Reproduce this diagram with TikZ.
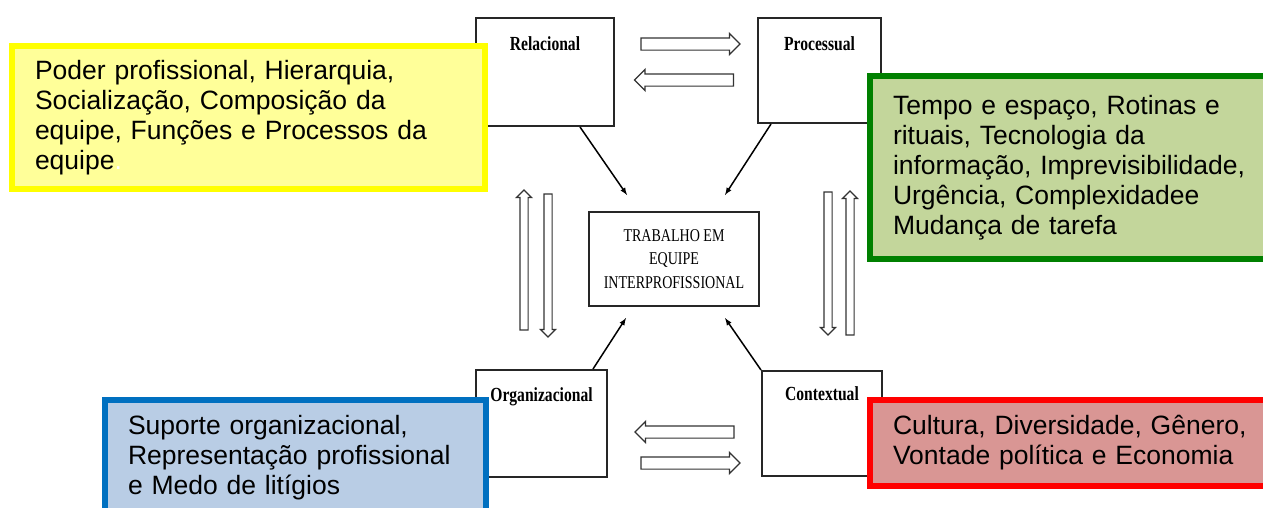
\documentclass[tikz,border=0pt]{standalone}
\usepackage{fontspec}
\setmainfont{Liberation Serif}
\newfontfamily\notefont{Liberation Sans}
\usetikzlibrary{shapes.arrows}

\definecolor{yelfill}{RGB}{255,255,153}
\definecolor{yelline}{RGB}{255,255,0}
\definecolor{grnfill}{RGB}{195,214,155}
\definecolor{grnline}{RGB}{0,128,0}
\definecolor{blufill}{RGB}{185,205,229}
\definecolor{bluline}{RGB}{0,112,192}
\definecolor{redfill}{RGB}{217,150,148}
\definecolor{redline}{RGB}{255,0,0}

\newcommand{\narrow}[1]{\scalebox{0.78}[1]{#1}}

\tikzset{
  factor/.style={draw=black!85, line width=2pt, inner sep=0pt, anchor=north,
    font=\fontsize{20}{24}\selectfont\bfseries},
  fatarrow/.style={single arrow, draw=black!80, line width=1.2pt, inner xsep=0pt,
    inner ysep=5.5pt, single arrow head extend=4.5pt, minimum height=#1},
  slimarrow/.style={fatarrow=#1, inner xsep=3.5pt, inner ysep=0pt, single arrow head extend=3.5pt},
  note/.style={line width=6pt, inner xsep=23pt, inner ysep=0pt, align=left,
    font=\notefont\fontsize{26.5}{30}\selectfont},
}

\begin{document}
\begin{tikzpicture}[x=1pt, y=-1pt]
            \useasboundingbox (0,0) rectangle (1263,507);
            \clip (0,0) rectangle (1263,507);

            \node[factor, minimum width=138pt, text height=32pt, text depth=76pt] (rel) at (545,17) {\narrow{Relacional}};
            \node[factor, minimum width=123pt, text height=32pt, text depth=73pt] (proc) at (819.5,17) {\narrow{Processual}};
            \node[factor, minimum width=131pt, text height=31pt, text depth=76pt] (org) at (541.5,369) {\narrow{Organizacional}};
            \node[factor, minimum width=120pt, text height=29pt, text depth=76pt] (ctx) at (822,370) {\narrow{Contextual}};
            \node[draw=black!85, line width=2pt, minimum width=170pt, minimum height=94pt, align=center,
                font=\fontsize{18}{23.5}\selectfont] (work) at (674,259)
                {\narrow{TRABALHO EM}\\\narrow{EQUIPE}\\\narrow{INTERPROFISSIONAL}};

            \coordinate (relend) at (627,195);
            \coordinate (procend) at (725,195);
            \coordinate (orgend) at (626,318);
            \coordinate (ctxend) at (725,318);
            \draw[->, >=latex, line width=1.5pt] ([xshift=-35pt]rel.south east) -- (relend);
            \draw[->, >=latex, line width=1.5pt] ([xshift=14pt]proc.south west) -- (procend);
            \draw[->, >=latex, line width=1.5pt] ([xshift=-15pt]org.north east) -- (orgend);
            \draw[->, >=latex, line width=1.5pt] (ctx.north west) -- (ctxend);

            %\draw[dotted] (614,44) -- (758,44) ;
            \node[fatarrow=99pt] (relproc) at (687.5,44) {};
            \node[fatarrow=99pt, shape border rotate=180] (procrel) at (687,80) {};
            \node[fatarrow=99pt, shape border rotate=180] (ctxorg) at (687.5,432) {};
            \node[fatarrow=99pt] (orgctx) at (687.5,463) {};
            \node[slimarrow=140pt, shape border rotate=90] (orgrel) at (524,262) {};
            \node[slimarrow=143pt, shape border rotate=270] (relorg) at (548,263.5) {};
            \node[slimarrow=143pt, shape border rotate=270] (procctx) at (828,261.5) {};
            \node[slimarrow=144pt, shape border rotate=90] (ctxproc) at (850,265) {};

            \node[note, draw=yelline, fill=yelfill, minimum width=473pt, minimum height=143pt, text width=427pt] (power) at (248.5,117.5)
                {Poder profissional, Hierarquia,\\ Socialização, Composição da\\ equipe, Funções e Processos da\\ equipe\textcolor{white}{.}};
            \node[note, draw=grnline, fill=grnfill, minimum width=420pt, minimum height=183pt, text width=374pt] (time) at (1080,167.5)
                {Tempo e espaço, Rotinas e\\ rituais, Tecnologia da\\ informação, Imprevisibilidade,\\ Urgência, Complexidadee\\ Mudança de tarefa};
            \node[note, draw=bluline, fill=blufill, minimum width=379pt, minimum height=116pt, text width=335pt] (support) at (295.5,458)
                {Suporte organizacional,\\ Representação profissional\\ e Medo de litígios};
            \node[note, draw=redline, fill=redfill, minimum width=420pt, minimum height=86pt, text width=374pt] (culture) at (1080,443)
                {Cultura, Diversidade, Gênero,\\ Vontade política e Economia};
        \end{tikzpicture}
\end{document}
